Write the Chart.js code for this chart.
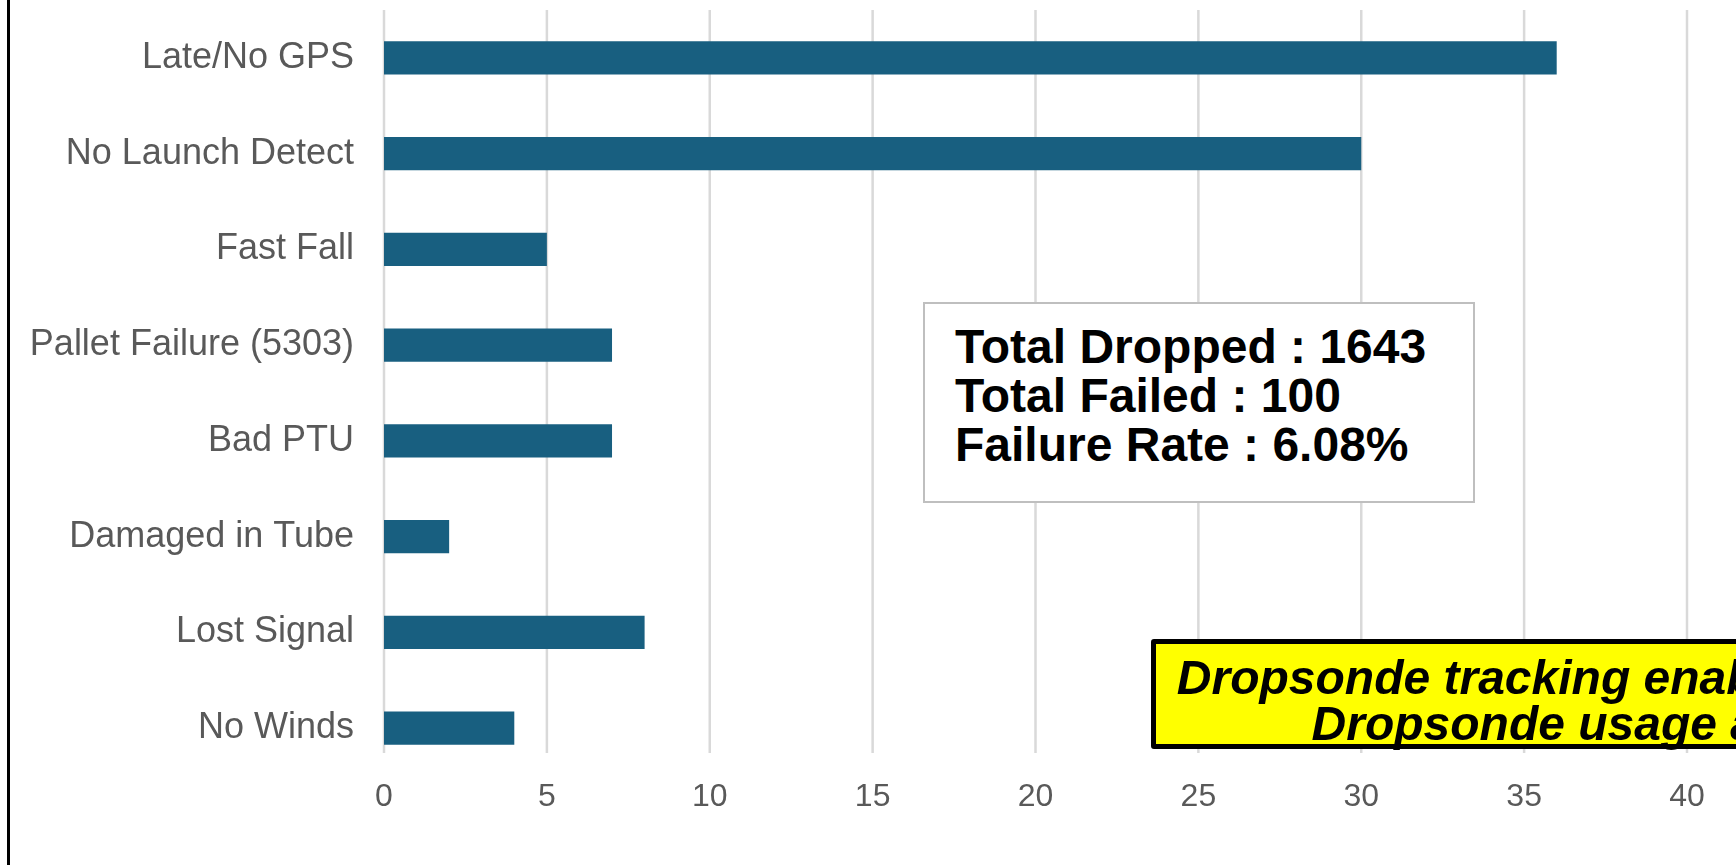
<!DOCTYPE html>
<html>
<head>
<meta charset="utf-8">
<script src="https://cdn.jsdelivr.net/npm/chart.js@4"></script>
<style>
  html, body { margin: 0; padding: 0; background: #fff; overflow: hidden; }
  body { width: 1736px; height: 865px; position: relative; font-family: "Liberation Sans", Arial, sans-serif; }
  #frameLine { position: absolute; left: 7px; top: 0; width: 3px; height: 865px; background: #000; }
  #statsBox {
    position: absolute; left: 923px; top: 302px; width: 552px; height: 201px;
    box-sizing: border-box; border: 2.5px solid #bfbfbf; background: #fff;
    padding: 18px 0 0 30px; font-weight: bold; font-size: 48px; line-height: 49px; color: #000;
  }
  #noteBox {
    position: absolute; left: 1151px; top: 639px; width: 1084px; height: 110px;
    box-sizing: border-box; border: 5px solid #000; border-radius: 3px; background: #ffff00;
    padding-top: 11px; text-align: center; white-space: nowrap;
    font-weight: bold; font-style: italic; font-size: 48px; line-height: 46px; color: #000;
  }
</style>
</head>
<body>
<canvas id="failChart" width="1736" height="865"></canvas>
<div id="frameLine"></div>
<div id="statsBox">
  <div>Total Dropped : 1643</div>
  <div>Total Failed : 100</div>
  <div>Failure Rate : 6.08%</div>
</div>
<div id="noteBox">
  <div>Dropsonde tracking enables failure analyses.</div>
  <div>Dropsonde usage and failure rate</div>
</div>
<script>
// categorias de falha e contagens
const categories = ['Late/No GPS', 'No Launch Detect', 'Fast Fall', 'Pallet Failure (5303)',
                    'Bad PTU', 'Damaged in Tube', 'Lost Signal', 'No Winds'];
const failures = [36, 30, 5, 7, 7, 2, 8, 4];
const xMin = 0;
const xMax = 40;
const xStep = 5;

// linhas de grade verticais, um pouco mais curtas que a área do gráfico
const shortGrid = {
    id: 'shortGrid',
    beforeDatasetsDraw(chart) {
        const { ctx, chartArea, scales: { x } } = chart;
        ctx.save();
        ctx.strokeStyle = '#d9d9d9';
        ctx.lineWidth = 2.5;
        x.ticks.forEach(function (t) {
            const px = x.getPixelForValue(t.value);
            ctx.beginPath();
            ctx.moveTo(px, chartArea.top);
            ctx.lineTo(px, chartArea.bottom - 23);
            ctx.stroke();
        });
        ctx.restore();
    }
};

const ctx = document.getElementById('failChart').getContext('2d');

new Chart(ctx, {
    type: 'bar',
    data: {
        labels: categories,
        datasets: [{
            label: 'Failures',
            data: failures,
            backgroundColor: '#185f80',
            borderWidth: 0,
            categoryPercentage: 1.0,
            barPercentage: 0.345
        }]
    },
    options: {
        indexAxis: 'y',
        responsive: false,
        animation: false,
        layout: {
            padding: { top: 10, right: 49, bottom: 0, left: 0 }
        },
        plugins: {
            legend: { display: false },
            tooltip: { enabled: false }
        },
        scales: {
            x: {
                min: xMin,
                max: xMax,
                ticks: {
                    stepSize: xStep,
                    padding: 2,
                    color: '#595959',
                    font: { family: 'Liberation Sans', size: 32 }
                },
                grid: { display: false, drawTicks: false },
                border: { display: false },
                afterFit: function (axis) { axis.height = 89; }
            },
            y: {
                ticks: {
                    padding: 30,
                    color: '#595959',
                    font: { family: 'Liberation Sans', size: 36 }
                },
                grid: { display: false, drawTicks: false },
                border: { display: false },
                afterFit: function (axis) {
                    axis.width = 384;
                    // sem margem extra em cima/baixo por causa dos rótulos
                    axis.paddingTop = 0;
                    axis.paddingBottom = 0;
                }
            }
        }
    },
    plugins: [shortGrid]
});
</script>
</body>
</html>
